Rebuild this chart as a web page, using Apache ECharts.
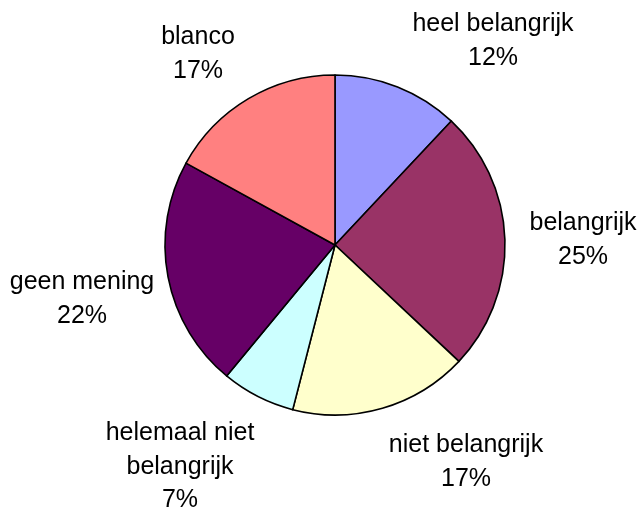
<!DOCTYPE html>
<html>
<head>
<meta charset="utf-8">
<style>
  html, body { margin: 0; padding: 0; background: #ffffff; }
  #chart { width: 640px; height: 513px; }
</style>
<script src="https://cdn.jsdelivr.net/npm/echarts@6/dist/echarts.min.js"></script>
</head>
<body>
<div id="chart"></div>
<script>
// Answer categories, in clockwise order from 12 o'clock
const categories = ['heel belangrijk', 'belangrijk', 'niet belangrijk', 'helemaal niet\nbelangrijk', 'geen mening', 'blanco'];
// Share of responses, percent
const shares = [12, 25, 17, 7, 22, 17];
// Slice fill colours
const sliceColors = ['#9999FF', '#993366', '#FFFFCC', '#CCFFFF', '#660066', '#FF8080'];
// Label anchor points (centre of each text block), px
const labelSpots = [[493, 41], [583, 240], [466, 462], [180, 467], [82, 299], [198, 54]];

const chart = echarts.init(document.getElementById('chart'), null, { renderer: 'canvas' });

chart.setOption({
  backgroundColor: '#ffffff',
  animation: false,
  series: [{
    type: 'pie',
    center: [335, 245],
    radius: [0, 170],
    startAngle: 90,
    clockwise: true,
    avoidLabelOverlap: false,
    data: categories.map((name, i) => ({
      name: name,
      value: shares[i],
      itemStyle: { color: sliceColors[i] }
    })),
    itemStyle: { borderColor: '#000000', borderWidth: 1.6 },
    label: {
      show: true,
      position: 'outside',
      formatter: p => p.name + '\n' + p.value + '%',
      fontFamily: '"Liberation Sans", Arial, sans-serif',
      fontSize: 25,
      lineHeight: 33.5,
      color: '#000000',
      align: 'center'
    },
    labelLine: { show: false },
    labelLayout: params => ({
      x: labelSpots[params.dataIndex][0],
      y: labelSpots[params.dataIndex][1],
      align: 'center',
      verticalAlign: 'middle'
    }),
    emphasis: { disabled: true }
  }]
});
</script>
</body>
</html>
